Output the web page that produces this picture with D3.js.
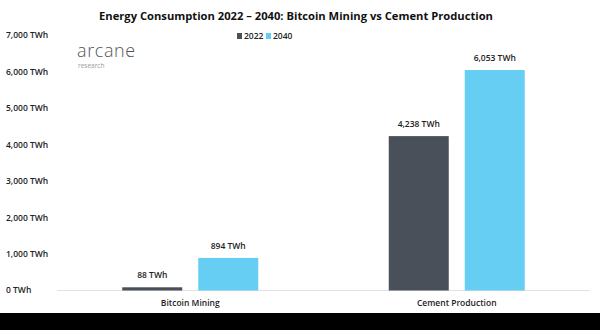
<!DOCTYPE html>
<html>
<head>
<meta charset="utf-8">
<script src="https://cdn.jsdelivr.net/npm/d3@7"></script>
<style>
  body { margin: 0; background: #fff; }
  svg { display: block; font-family: "Open Sans", "Noto Sans", sans-serif; }
</style>
</head>
<body>
<div id="chart"></div>
<script>
// Energy consumption 2022 vs 2040
const width = 600;
const height = 330;

const categories = ['Bitcoin Mining', 'Cement Production'];
const years = ['2022', '2040'];
const values2022 = [88, 4238];
const values2040 = [894, 6053];
const yTicks = [0, 1000, 2000, 3000, 4000, 5000, 6000, 7000];

const colors = { '2022': '#495059', '2040': '#66cdf3' };

const svg = d3.select('#chart')
    .append('svg')
    .attr('width', width)
    .attr('height', height);

const x0 = d3.scaleBand().domain(categories).range([57, 590]).padding(0);
const x1 = d3.scaleBand().domain(years).range([0, 136]).paddingInner(16 / 76);
const y = d3.scaleLinear().domain([0, 7000]).range([290.5, 35.5]);

const fmt = d3.format(',');

// Title
svg.append('text')
    .attr('x', 296)
    .attr('y', 20)
    .attr('text-anchor', 'middle')
    .attr('fill', '#111')
    .style('font-weight', 'bold')
    .style('font-size', '11.2px')
    .text('Energy Consumption 2022 – 2040: Bitcoin Mining vs Cement Production');

// Y axis labels (no line)
svg.selectAll('.ylab')
    .data(yTicks)
    .enter()
    .append('text')
    .attr('class', 'ylab')
    .attr('x', 6)
    .attr('y', d => y(d))
    .attr('dy', '0.35em')
    .attr('fill', '#222')
    .style('font-size', '8.5px')
    .style('font-weight', '600')
    .text(d => `${fmt(d)} TWh`);

// Baseline
svg.append('line')
    .attr('x1', 57).attr('x2', 590)
    .attr('y1', y(0)).attr('y2', y(0))
    .attr('stroke', '#e2e2e2')
    .attr('stroke-width', 1);

// Bars
const rows = categories.map((c, i) => ({
    cat: c,
    vals: [{ year: '2022', v: values2022[i] }, { year: '2040', v: values2040[i] }]
}));

const groups = svg.selectAll('.grp')
    .data(rows)
    .enter()
    .append('g')
    .attr('class', 'grp')
    .attr('transform', d => `translate(${x0(d.cat) + (x0.bandwidth() - 136) / 2},0)`);

groups.selectAll('rect')
    .data(d => d.vals)
    .enter()
    .append('rect')
    .attr('x', d => x1(d.year))
    .attr('width', x1.bandwidth())
    .attr('y', d => y(d.v))
    .attr('height', d => y(0) - y(d.v))
    .attr('fill', d => colors[d.year]);

groups.selectAll('.vlab')
    .data(d => d.vals)
    .enter()
    .append('text')
    .attr('class', 'vlab')
    .attr('x', d => x1(d.year) + x1.bandwidth() / 2)
    .attr('y', d => y(d.v) - 9)
    .attr('text-anchor', 'middle')
    .attr('fill', '#222')
    .style('font-size', '8.5px')
    .style('font-weight', '600')
    .text(d => `${fmt(d.v)} TWh`);

// Category labels
svg.selectAll('.xlab')
    .data(categories)
    .enter()
    .append('text')
    .attr('class', 'xlab')
    .attr('x', d => x0(d) + x0.bandwidth() / 2)
    .attr('y', 306)
    .attr('text-anchor', 'middle')
    .attr('fill', '#222')
    .style('font-size', '8.5px')
    .style('font-weight', '600')
    .text(d => d);

// Legend
const legend = svg.append('g').attr('transform', 'translate(237,36)');
years.forEach((yr, i) => {
    const g = legend.append('g').attr('transform', `translate(${i * 29},0)`);
    g.append('rect').attr('x', 0).attr('y', -3).attr('width', 5).attr('height', 6).attr('fill', colors[yr]);
    g.append('text')
        .attr('x', 7).attr('y', 0).attr('dy', '0.35em')
        .attr('fill', '#222')
        .style('font-size', '8.5px')
        .style('font-weight', '600')
        .text(yr);
});

// Logo
svg.append('text')
    .attr('x', 77).attr('y', 57)
    .attr('fill', '#555')
    .style('font-size', '18px')
    .style('font-weight', '300')
    .style('letter-spacing', '0.6px')
    .text('arcane');
svg.append('text')
    .attr('x', 78).attr('y', 68)
    .attr('fill', '#999')
    .style('font-size', '6.5px')
    .text('research');

// Black band at the bottom
svg.append('rect')
    .attr('x', 0).attr('y', 313)
    .attr('width', width).attr('height', height - 313)
    .attr('fill', '#000');
</script>
</body>
</html>
